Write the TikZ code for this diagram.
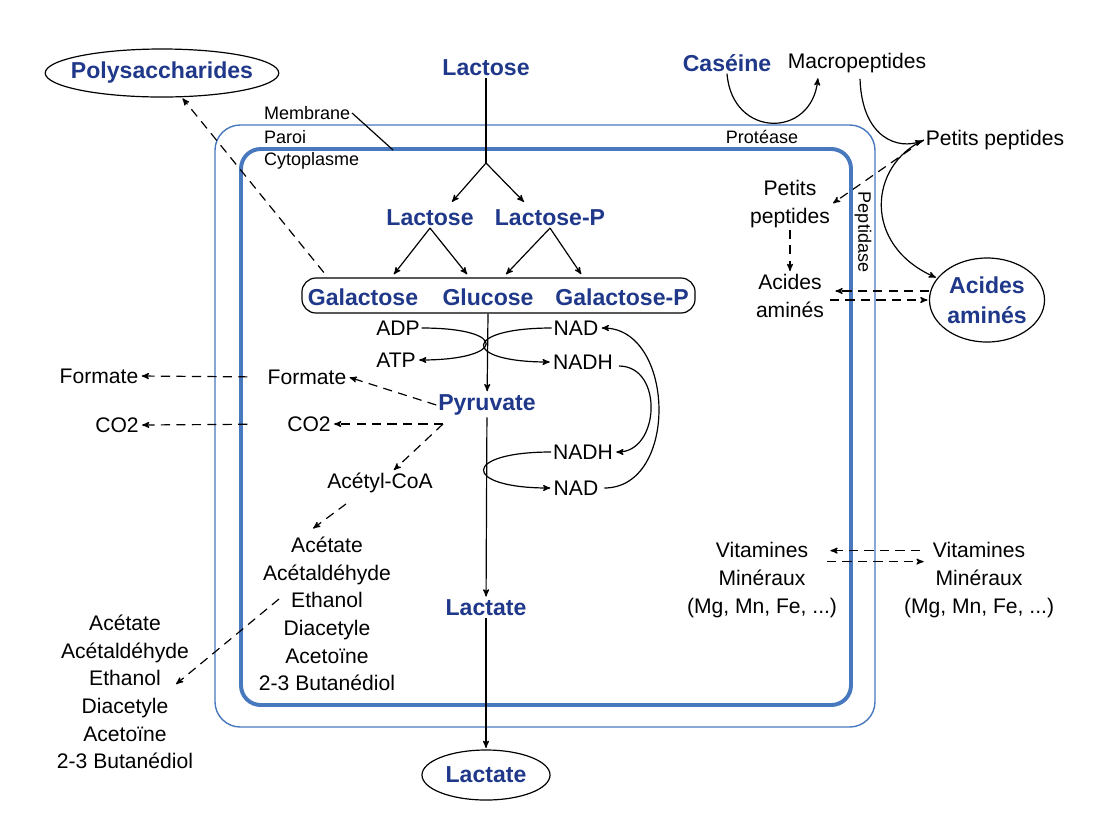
\documentclass[tikz,border=0pt]{standalone}
\usepackage{fontspec}
\setmainfont{Liberation Sans}
\usepackage{tikz}
\usetikzlibrary{arrows,shapes.geometric}

\definecolor{navy}{RGB}{32,56,138}
\definecolor{wall}{RGB}{72,120,190}

\begin{document}
\begin{tikzpicture}[x=0.025cm, y=-0.025cm, >=stealth', line width=0.85pt,
  mol/.style={font=\bfseries\fontsize{16.4}{21.3}\selectfont, text=navy, align=center, inner sep=1pt},
  met/.style={font=\fontsize{15}{19.6}\selectfont, align=center, inner sep=1pt},
  tag/.style={font=\fontsize{12.8}{14}\selectfont, inner sep=1pt},
  oval/.style={mol, ellipse, draw=black, inner sep=0pt},
  flow/.style={->, shorten >=1pt},
  leak/.style={->, dash pattern=on 6.5pt off 4.5pt, shorten >=1pt}]

\useasboundingbox (0,0) rectangle (1103,812);

% cell envelope
\draw[wall, line width=1pt, rounded corners=18pt] (215,125) rectangle (875,727);
\draw[wall, line width=2.8pt, rounded corners=14pt] (241,149) rectangle (851,705);

% outside the cell
\node[oval, inner xsep=-6pt, minimum height=1.2cm] (poly) at (162,73) {Polysaccharides};
\node[mol] (lacOut) at (486,68) {Lactose};
\node[mol] (casein) at (727,63) {Caséine};
\node[met] (macro) at (857,63) {Macropeptides};
\node[met] (petOut) at (995,140) {Petits peptides};
\node[oval, minimum width=2.875cm, minimum height=2.1cm] (aaOut) at (987,300) {Acides\\aminés};
\node[met] (formOut) at (99,376) {Formate};
\node[met] (co2Out) at (117,425) {CO2};
\node[met] (endOut) at (125,692) {Acétate\\Acétaldéhyde\\Ethanol\\Diacetyle\\Acetoïne\\2-3 Butanédiol};
\node[met] (vitOut) at (979,580) {Vitamines\\Minéraux\\(Mg, Mn, Fe, ...)};
\node[oval, minimum width=3.2cm, minimum height=1.25cm] (lactOut) at (486,775) {Lactate};

% wall labels
\node[tag, anchor=west] (memb) at (262,113) {Membrane};
\node[tag, anchor=west] (paroi) at (262,137) {Paroi};
\node[tag, anchor=west] (cyto) at (262,161) {Cytoplasme};
\node[tag] (prot) at (762,137) {Protéase};
\node[tag, rotate=-90] (pept) at (863,232) {Peptidase};

% inside the cell
\node[mol] (lacIn) at (430,218) {Lactose};
\node[mol] (lacP) at (550,218) {Lactose-P};
\node[draw, rounded corners=10pt, minimum width=9.825cm, minimum height=0.875cm] (hexoses) at (498.5,295.5) {};
\node[mol] (gal) at (363,297) {Galactose};
\node[mol] (glu) at (488,297) {Glucose};
\node[mol] (galP) at (622,297) {Galactose-P};
\node[met] (adp) at (398,328) {ADP};
\node[met] (atp) at (396,360) {ATP};
\node[met] (nad1) at (576,328) {NAD};
\node[met] (nadh1) at (583,362) {NADH};
\node[mol] (pyr) at (487,405) {Pyruvate};
\node[met] (formIn) at (307,377) {Formate};
\node[met] (co2In) at (309,424) {CO2};
\node[met] (nadh2) at (583,452) {NADH};
\node[met] (nad2) at (576,488) {NAD};
\node[met] (acetyl) at (380,483) {Acétyl-CoA};
\node[met] (endIn) at (327,614) {Acétate\\Acétaldéhyde\\Ethanol\\Diacetyle\\Acetoïne\\2-3 Butanédiol};
\node[mol] (lactIn) at (486,608) {Lactate};
\node[met] (petIn) at (790,204) {Petits\\peptides};
\node[met] (aaIn) at (790,296) {Acides\\aminés};
\node[met] (vitIn) at (762,580) {Vitamines\\Minéraux\\(Mg, Mn, Fe, ...)};

\coordinate (fork) at (486,163);
\coordinate (memTip) at (393,150);
\coordinate (pyrSW) at (443,424);

\draw (memb.east) -- (memTip);

% lactose
\draw (lacOut) -- (fork);
\draw[flow] (fork) -- ([shift={(21,-5)}]lacIn.north);
\draw[flow] (fork) -- ([shift={(-25,-5)}]lacP.north);
\draw[flow] (lacIn.south) -- ([shift={(-105.5,-2)}]hexoses.north);
\draw[flow] (lacIn.south) -- ([shift={(-30.5,-2)}]hexoses.north);
\draw[flow] (lacP.south) -- ([shift={(6.5,-2)}]hexoses.north);
\draw[flow] (lacP.south) -- ([shift={(83.5,-2)}]hexoses.north);
\draw[flow] (hexoses.south -| glu) -- (pyr);
\draw[flow] (pyr) -- (lactIn);
\draw[flow] (lactIn) -- (lactOut);

% cofactors
\draw[flow] (adp.east) .. controls +(88,0) and +(88,0) .. (atp.east);
\draw[flow] (nad1.west) .. controls +(-90,0) and +(-90,0) .. (nadh1.west);
\draw[flow] (nadh2.west) .. controls +(-90,0) and +(-90,0) .. (nad2.west);
\draw[flow] ([shift={(4,4)}]nadh1.east) .. controls +(45,0) and +(45,0) .. (nadh2.east);
\draw[flow] ([shift={(4,0)}]nad2.east) .. controls +(75,0) and +(75,0) .. (nad1.east);

% side products
\draw[leak] (pyr.west) -- (formIn.east);
\draw[leak] (pyrSW) -- (co2In.east);
\draw[leak] (pyrSW) -- (acetyl);
\draw[leak] ([shift={(-34,9)}]acetyl.south) -- ([shift={(-15,-6)}]endIn.north);
\draw[leak, shorten <=13pt] (formIn.west) -- (formOut.east);
\draw[leak, shorten <=27pt] (co2In.west) -- (co2Out.east);
\draw[leak] ([shift={(-48,-15)}]endIn.center) -- ([shift={(50,-7)}]endOut.center);
\draw[leak] ([shift={(18,-14)}]gal.north west) -- (poly);

% caseine
\draw[flow] (casein.south) .. controls +(5,65) and +(-6,62) .. ([shift={(-39,2)}]macro.south);
\draw[flow] ([shift={(3,4)}]macro.south) .. controls +(2,60) and +(-25,10) .. (petOut.west);
\draw[flow] (petOut.west) .. controls +(-55,25) and +(-125,-55) .. (aaOut);
\draw[leak] (petOut.west) -- (petIn.east);
\draw[leak] (petIn) -- (aaIn);
\draw[leak] ([shift={(0,-9)}]aaOut.west) -- ([shift={(8,-5)}]aaIn.east);
\draw[leak] ([shift={(4,4)}]aaIn.east) -- (aaOut.west);

% vitamines
\draw[leak] ([shift={(-59,10)}]vitOut.north) -- ([shift={(67,10)}]vitIn.north);
\draw[leak] ([shift={(65,21)}]vitIn.north) -- ([shift={(-54,21)}]vitOut.north);

\end{tikzpicture}
\end{document}
